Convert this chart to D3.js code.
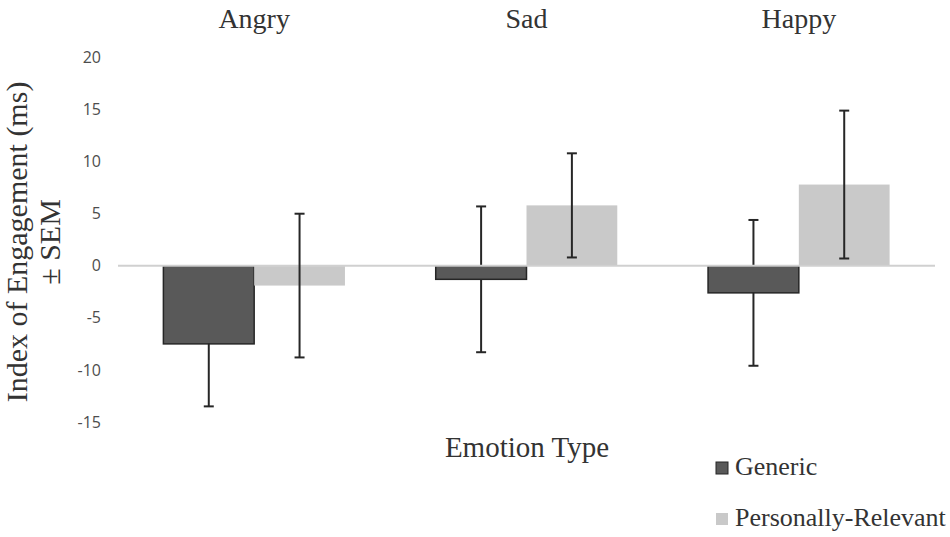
<!DOCTYPE html>
<html>
<head>
<meta charset="utf-8">
<script src="https://cdn.jsdelivr.net/npm/d3@7"></script>
<style>
    body { margin: 0; background: #fff; }
    svg { display: block; }
</style>
</head>
<body>
<div id="chart"></div>
<script>
// data
const emotions = ["Angry", "Sad", "Happy"];
const seriesNames = ["Generic", "Personally-Relevant"];
const genericMeans = [-7.5, -1.3, -2.6];
const genericSem = [6.0, 7.0, 7.0];
const relevantMeans = [-1.9, 5.8, 7.8];
const relevantSem = [6.9, 5.0, 7.1];
const yTicks = [20, 15, 10, 5, 0, -5, -10, -15];

const width = 950, height = 537;
const colors = {"Generic": "#595959", "Personally-Relevant": "#c9c9c9"};

const rows = [];
emotions.forEach((e, i) => {
    rows.push({emotion: e, series: "Generic", value: genericMeans[i], sem: genericSem[i]});
    rows.push({emotion: e, series: "Personally-Relevant", value: relevantMeans[i], sem: relevantSem[i]});
});

const svg = d3.select("#chart")
    .append("svg")
    .attr("width", width)
    .attr("height", height);

const x0 = d3.scaleBand().domain(emotions).range([118, 935]).paddingInner(0).paddingOuter(0);
const x1 = d3.scaleBand().domain(seriesNames).range([0, x0.bandwidth()]).paddingInner(0).paddingOuter(0.5);
const y = d3.scaleLinear().domain([-15, 20]).range([422, 57.5]);

// y axis labels only (no line, no ticks)
const yAxis = d3.axisLeft(y).tickValues(yTicks).tickSize(0).tickPadding(0)
    .tickFormat(d => d < 0 ? "-" + Math.abs(d) : d);
const yG = svg.append("g")
    .attr("transform", "translate(101,0)")
    .call(yAxis);
yG.select(".domain").remove();
yG.selectAll("text")
    .attr("font-family", "'Open Sans', sans-serif")
    .attr("font-size", 16)
    .attr("fill", "#4d4d4d");

// category labels along the top
svg.append("g")
    .selectAll("text")
    .data(emotions)
    .join("text")
    .attr("x", d => x0(d) + x0.bandwidth() / 2)
    .attr("y", 28)
    .attr("text-anchor", "middle")
    .attr("font-family", "'Liberation Serif', serif")
    .attr("font-size", 28)
    .attr("fill", "#333")
    .text(d => d);

const cx = d => x0(d.emotion) + x1(d.series) + x1.bandwidth() / 2;

function drawErrors(g, data) {
    g.selectAll("line.v")
        .data(data)
        .join("line")
        .attr("class", "v")
        .attr("x1", cx).attr("x2", cx)
        .attr("y1", d => y(d.value + d.sem))
        .attr("y2", d => y(d.value - d.sem));
    g.selectAll("line.top")
        .data(data)
        .join("line")
        .attr("class", "top")
        .attr("x1", d => cx(d) - 5).attr("x2", d => cx(d) + 5)
        .attr("y1", d => y(d.value + d.sem)).attr("y2", d => y(d.value + d.sem));
    g.selectAll("line.bot")
        .data(data)
        .join("line")
        .attr("class", "bot")
        .attr("x1", d => cx(d) - 5).attr("x2", d => cx(d) + 5)
        .attr("y1", d => y(d.value - d.sem)).attr("y2", d => y(d.value - d.sem));
}

// error bars of the dark series sit under the bars (they vanish in the dark fill)
drawErrors(svg.append("g").attr("stroke", "#262626").attr("stroke-width", 2),
    rows.filter(d => d.series == "Generic"));

// bars
svg.append("g")
    .selectAll("rect")
    .data(rows)
    .join("rect")
    .attr("x", d => x0(d.emotion) + x1(d.series))
    .attr("width", x1.bandwidth())
    .attr("y", d => Math.min(y(0), y(d.value)))
    .attr("height", d => Math.abs(y(d.value) - y(0)))
    .attr("fill", d => colors[d.series])
    .attr("stroke", d => d.series == "Generic" ? "#262626" : "none")
    .attr("stroke-width", 1.5);

// zero line
svg.append("line")
    .attr("x1", x0.range()[0]).attr("x2", x0.range()[1])
    .attr("y1", y(0)).attr("y2", y(0))
    .attr("stroke", "#d0d0d0")
    .attr("stroke-width", 2);

drawErrors(svg.append("g").attr("stroke", "#262626").attr("stroke-width", 2),
    rows.filter(d => d.series != "Generic"));

// axis titles
const yTitle = svg.append("text")
    .attr("transform", "translate(0,242) rotate(-90)")
    .attr("text-anchor", "middle")
    .attr("font-family", "'Liberation Serif', serif")
    .attr("font-size", 30)
    .attr("fill", "#333");
yTitle.append("tspan").attr("x", 0).attr("y", 27).text("Index of Engagement (ms)");
yTitle.append("tspan").attr("x", 0).attr("y", 60).text("± SEM");

svg.append("text")
    .attr("x", 527)
    .attr("y", 457)
    .attr("text-anchor", "middle")
    .attr("font-family", "'Liberation Serif', serif")
    .attr("font-size", 29)
    .attr("fill", "#333")
    .text("Emotion Type");

// legend
const legend = svg.append("g")
    .selectAll("g")
    .data(seriesNames)
    .join("g")
    .attr("transform", (d, i) => "translate(716," + (462 + i * 51) + ")");
legend.append("rect")
    .attr("width", 12).attr("height", 12)
    .attr("fill", d => colors[d])
    .attr("stroke", d => d == "Generic" ? "#262626" : "none");
legend.append("text")
    .attr("x", 19)
    .attr("y", 13)
    .attr("font-family", "'Liberation Serif', serif")
    .attr("font-size", 26)
    .attr("fill", "#333")
    .text(d => d);
</script>
</body>
</html>
